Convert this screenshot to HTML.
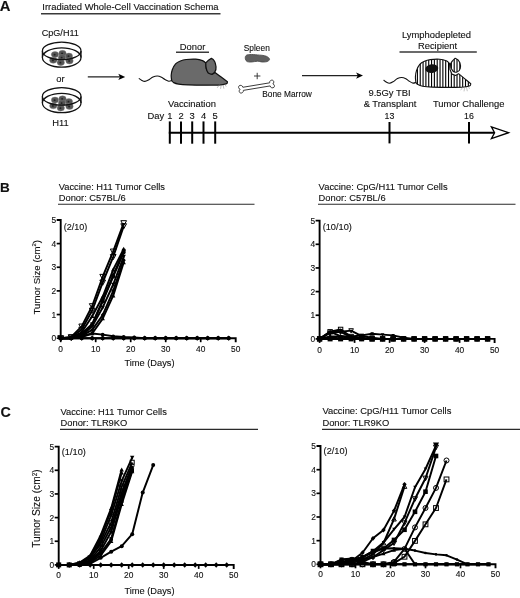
<!DOCTYPE html>
<html><head><meta charset="utf-8"><title>Figure</title>
<style>html,body{margin:0;padding:0;background:#fff}svg{display:block;will-change:transform;filter:grayscale(1)}text{font-family:"Liberation Sans", sans-serif;fill:#111;stroke:#111;stroke-width:0.12px}</style>
</head><body>
<svg width="520" height="598" viewBox="0 0 520 598">
<rect width="520" height="598" fill="#fff"/>
<text x="-0.3" y="10.7" font-size="14.8" text-anchor="start" font-weight="bold" >A</text>
<text x="42.3" y="10.2" font-size="9.5" text-anchor="start" textLength="176.3" lengthAdjust="spacingAndGlyphs" >Irradiated Whole-Cell Vaccination Schema</text>
<line x1="41" y1="13.8" x2="220.5" y2="13.8" stroke="#3a3a3a" stroke-width="1.5" />
<text x="60.3" y="36.3" font-size="9.4" text-anchor="middle" textLength="37.2" lengthAdjust="spacingAndGlyphs" >CpG/H11</text>
<text x="60.5" y="82" font-size="9.4" text-anchor="middle" >or</text>
<text x="60.5" y="125.5" font-size="9.4" text-anchor="middle" >H11</text>
<g fill="none" stroke="#111" stroke-width="1.25">
<ellipse cx="61.7" cy="57.5" rx="19.3" ry="9.700000000000001" fill="#fff"/>
<path d="M42.400000000000006,50.9 V57.5 M81.0,50.9 V57.5"/>
</g>
<ellipse cx="55.0" cy="54.6" rx="3.7" ry="3.05" fill="#555" stroke="#808080" stroke-width="0.4"/>
<ellipse cx="54.6" cy="54.7" rx="1.0" ry="0.9" fill="#222"/>
<ellipse cx="62.5" cy="53.4" rx="3.7" ry="3.05" fill="#555" stroke="#808080" stroke-width="0.4"/>
<ellipse cx="62.1" cy="53.5" rx="1.0" ry="0.9" fill="#222"/>
<ellipse cx="68.9" cy="56.1" rx="3.7" ry="3.05" fill="#555" stroke="#808080" stroke-width="0.4"/>
<ellipse cx="68.5" cy="56.2" rx="1.0" ry="0.9" fill="#222"/>
<ellipse cx="53.3" cy="60.3" rx="3.7" ry="3.05" fill="#555" stroke="#808080" stroke-width="0.4"/>
<ellipse cx="52.9" cy="60.4" rx="1.0" ry="0.9" fill="#222"/>
<ellipse cx="60.8" cy="62.6" rx="3.7" ry="3.05" fill="#555" stroke="#808080" stroke-width="0.4"/>
<ellipse cx="60.4" cy="62.7" rx="1.0" ry="0.9" fill="#222"/>
<ellipse cx="69.5" cy="60.9" rx="3.7" ry="3.05" fill="#555" stroke="#808080" stroke-width="0.4"/>
<ellipse cx="69.1" cy="61.0" rx="1.0" ry="0.9" fill="#222"/>
<ellipse cx="62.0" cy="57.5" rx="3.7" ry="3.05" fill="#555" stroke="#808080" stroke-width="0.4"/>
<ellipse cx="61.6" cy="57.6" rx="1.0" ry="0.9" fill="#222"/>
<ellipse cx="61.7" cy="50.9" rx="19.3" ry="8.8" fill="none" stroke="#111" stroke-width="1.25"/>
<g fill="none" stroke="#111" stroke-width="1.25">
<ellipse cx="61.7" cy="103.0" rx="19.3" ry="9.700000000000001" fill="#fff"/>
<path d="M42.400000000000006,96.4 V103.0 M81.0,96.4 V103.0"/>
</g>
<ellipse cx="55.0" cy="100.1" rx="3.7" ry="3.05" fill="#555" stroke="#808080" stroke-width="0.4"/>
<ellipse cx="54.6" cy="100.2" rx="1.0" ry="0.9" fill="#222"/>
<ellipse cx="62.5" cy="98.9" rx="3.7" ry="3.05" fill="#555" stroke="#808080" stroke-width="0.4"/>
<ellipse cx="62.1" cy="99.0" rx="1.0" ry="0.9" fill="#222"/>
<ellipse cx="68.9" cy="101.6" rx="3.7" ry="3.05" fill="#555" stroke="#808080" stroke-width="0.4"/>
<ellipse cx="68.5" cy="101.7" rx="1.0" ry="0.9" fill="#222"/>
<ellipse cx="53.3" cy="105.8" rx="3.7" ry="3.05" fill="#555" stroke="#808080" stroke-width="0.4"/>
<ellipse cx="52.9" cy="105.9" rx="1.0" ry="0.9" fill="#222"/>
<ellipse cx="60.8" cy="108.1" rx="3.7" ry="3.05" fill="#555" stroke="#808080" stroke-width="0.4"/>
<ellipse cx="60.4" cy="108.2" rx="1.0" ry="0.9" fill="#222"/>
<ellipse cx="69.5" cy="106.4" rx="3.7" ry="3.05" fill="#555" stroke="#808080" stroke-width="0.4"/>
<ellipse cx="69.1" cy="106.5" rx="1.0" ry="0.9" fill="#222"/>
<ellipse cx="62.0" cy="103.0" rx="3.7" ry="3.05" fill="#555" stroke="#808080" stroke-width="0.4"/>
<ellipse cx="61.6" cy="103.1" rx="1.0" ry="0.9" fill="#222"/>
<ellipse cx="61.7" cy="96.4" rx="19.3" ry="8.8" fill="none" stroke="#111" stroke-width="1.25"/>
<path d="M87.8,76.9 H121" stroke="#222" stroke-width="1.3" fill="none"/><path d="M125.2,76.9 l-6.9,-3.1 l1.7,3.1 l-1.7,3.1z" fill="#000"/>
<path d="M302,75.6 H359" stroke="#222" stroke-width="1.3" fill="none"/><path d="M363,75.6 l-6.9,-3.1 l1.7,3.1 l-1.7,3.1z" fill="#000"/>
<text x="192.5" y="50" font-size="9.4" text-anchor="middle" >Donor</text>
<line x1="176" y1="52.3" x2="209" y2="52.3" stroke="#3a3a3a" stroke-width="1.5" />
<path d="M171.70,80.60 C171.22,80.70 169.92,81.38 168.80,81.20 C167.68,81.02 166.22,80.17 165.00,79.50 C163.78,78.83 162.78,77.78 161.50,77.20 C160.22,76.62 158.72,76.03 157.30,76.00 C155.88,75.97 154.47,76.33 153.00,77.00 C151.53,77.67 149.87,79.27 148.50,80.00 C147.13,80.73 145.97,81.37 144.80,81.40 C143.63,81.43 142.43,80.67 141.50,80.20 C140.57,79.73 139.58,78.87 139.20,78.60 " fill="none" stroke="#111" stroke-width="1.1" stroke-linecap="round"/>
<path d="M171.70,80.60 C171.62,79.73 171.10,77.22 171.20,75.40 C171.30,73.58 171.57,71.62 172.30,69.70 C173.03,67.78 174.25,65.35 175.60,63.90 C176.95,62.45 178.63,61.73 180.40,61.00 C182.17,60.27 183.63,59.82 186.20,59.50 C188.77,59.18 193.08,58.92 195.80,59.10 C198.52,59.28 200.83,59.97 202.50,60.60 C204.17,61.23 205.25,62.52 205.80,62.90  L206.3,68.7 L208.3,72.9 L212.1,74.1 L215,72.5 C215.97,73.22 218.73,75.25 220.80,76.80 C222.87,78.35 226.30,80.97 227.40,81.80  C227.27,82.10 227.70,83.10 226.60,83.60 C225.50,84.10 224.02,84.53 220.80,84.80 C217.58,85.07 212.75,85.18 207.30,85.20 C201.85,85.22 192.90,85.08 188.10,84.90 C183.30,84.72 180.90,84.48 178.50,84.10 C176.10,83.72 174.83,83.18 173.70,82.60 C172.57,82.02 172.03,80.93 171.70,80.60  Z" fill="#6a6a6a" stroke="#111" stroke-width="1.25" stroke-linejoin="round"/>
<path d="M205.8,62.9 C207.2,61.2 209.3,59.4 211.4,58.4 C213.6,59.4 215.6,62.5 216,66.8 C216.2,69 215.8,70.6 215,71.6 C214.2,73 213.2,74 212.1,74.1 C210.5,74.3 209.2,73.8 208.3,72.9 C207.3,71.8 206.6,70.5 206.3,68.7 C205.9,66.8 205.7,64.8 205.8,62.9 Z" fill="#6a6a6a" stroke="#111" stroke-width="1.25" stroke-linejoin="round"/>
<path d="M219.5,84.6 L217.2,87.8 M221.2,84.9 L220.6,88.9 M223,84.8 L223.9,88.7 M224.8,84.2 L226.2,86.6" fill="none" stroke="#8a8a8a" stroke-width="0.55"/>
<text x="243.8" y="51.4" font-size="8.6" text-anchor="start" textLength="26" lengthAdjust="spacingAndGlyphs" >Spleen</text>
<path d="M245.90,55.70 C246.63,54.93 247.85,54.63 249.80,54.50 C251.75,54.37 255.15,54.70 257.60,54.90 C260.05,55.10 262.72,55.28 264.50,55.70 C266.28,56.12 267.47,56.75 268.30,57.40 C269.13,58.05 269.70,58.90 269.50,59.60 C269.30,60.30 268.35,61.20 267.10,61.60 C265.85,62.00 263.58,62.07 262.00,62.00 C260.42,61.93 259.33,61.20 257.60,61.20 C255.87,61.20 253.33,61.93 251.60,62.00 C249.87,62.07 248.23,62.08 247.20,61.60 C246.17,61.12 245.62,60.08 245.40,59.10 C245.18,58.12 245.17,56.47 245.90,55.70 Z" fill="#606060" stroke="#444" stroke-width="0.8"/>
<path d="M254,76 H260.4 M257.2,72.8 V79.2" stroke="#333" stroke-width="0.95" fill="none"/>
<g transform="translate(256.5,86.6) rotate(-9.4) scale(0.97,0.98)"><path d="M-14,-1.6 L14,-1.6 C13.9,-4.4 18.3,-4.9 18.4,-2.1 C18.4,-1.1 17.9,-0.4 17.1,0 C17.9,0.4 18.4,1.1 18.4,2.1 C18.3,4.9 13.9,4.4 14,1.6 L-14,1.6 C-13.9,4.4 -18.3,4.9 -18.4,2.1 C-18.4,1.1 -17.9,0.4 -17.1,0 C-17.9,-0.4 -18.4,-1.1 -18.4,-2.1 C-18.3,-4.9 -13.9,-4.4 -14,-1.6 Z" fill="#fff" stroke="#3a3a3a" stroke-width="0.95" stroke-linejoin="round"/></g>
<text x="262.3" y="96.7" font-size="8.6" text-anchor="start" textLength="49.5" lengthAdjust="spacingAndGlyphs" >Bone Marrow</text>
<text x="436.5" y="37.5" font-size="9.4" text-anchor="middle" >Lymphodepleted</text>
<text x="437.5" y="48.8" font-size="9.4" text-anchor="middle" >Recipient</text>
<line x1="399.5" y1="52.1" x2="476.8" y2="52.1" stroke="#3a3a3a" stroke-width="1.5" />
<defs><clipPath id="m2c"><path d="M415.90,82.44 C415.82,81.50 415.31,78.79 415.40,76.82 C415.50,74.86 415.77,72.74 416.49,70.67 C417.21,68.59 418.41,65.97 419.74,64.40 C421.07,62.84 422.72,62.06 424.47,61.27 C426.21,60.48 427.65,60.00 430.18,59.65 C432.71,59.31 436.96,59.03 439.64,59.22 C442.31,59.41 444.59,60.16 446.24,60.84 C447.88,61.52 448.94,62.91 449.49,63.32  L449.98,69.59 L451.95,74.12 L455.69,75.42 L458.55,73.69 C459.50,74.47 462.22,76.66 464.26,78.34 C466.30,80.01 469.68,82.84 470.76,83.74  C470.63,84.06 471.06,85.14 469.97,85.68 C468.89,86.22 467.43,86.68 464.26,86.98 C461.09,87.27 456.33,87.39 450.96,87.41 C445.59,87.43 436.78,87.28 432.05,87.08 C427.32,86.89 424.96,86.63 422.60,86.22 C420.23,85.81 418.98,85.23 417.87,84.60 C416.75,83.97 416.22,82.80 415.90,82.44  Z"/><path d="M450.4,64 C451.5,62 453.2,59.9 455.2,58.2 C457.6,59 459.2,60.9 459.9,62.8 C460.6,64.8 460.7,66.8 460.2,68.6 C459.7,70.3 458.5,71.5 457,72 C455.6,72.4 454,72.1 452.9,71 C451.4,69.4 450.3,66.5 450.4,64 Z"/></clipPath></defs>
<path d="M415.90,82.44 C415.42,82.55 414.14,83.28 413.04,83.09 C411.94,82.89 410.50,81.98 409.30,81.25 C408.10,80.53 407.11,79.39 405.85,78.77 C404.59,78.14 403.11,77.50 401.71,77.47 C400.31,77.44 398.93,77.83 397.48,78.55 C396.03,79.28 394.39,81.00 393.04,81.79 C391.70,82.58 390.55,83.27 389.40,83.30 C388.25,83.34 387.07,82.52 386.15,82.01 C385.23,81.50 384.26,80.57 383.88,80.28 " fill="none" stroke="#111" stroke-width="1.1" stroke-linecap="round"/>
<path d="M415.90,82.44 C415.82,81.50 415.31,78.79 415.40,76.82 C415.50,74.86 415.77,72.74 416.49,70.67 C417.21,68.59 418.41,65.97 419.74,64.40 C421.07,62.84 422.72,62.06 424.47,61.27 C426.21,60.48 427.65,60.00 430.18,59.65 C432.71,59.31 436.96,59.03 439.64,59.22 C442.31,59.41 444.59,60.16 446.24,60.84 C447.88,61.52 448.94,62.91 449.49,63.32  L449.98,69.59 L451.95,74.12 L455.69,75.42 L458.55,73.69 C459.50,74.47 462.22,76.66 464.26,78.34 C466.30,80.01 469.68,82.84 470.76,83.74  C470.63,84.06 471.06,85.14 469.97,85.68 C468.89,86.22 467.43,86.68 464.26,86.98 C461.09,87.27 456.33,87.39 450.96,87.41 C445.59,87.43 436.78,87.28 432.05,87.08 C427.32,86.89 424.96,86.63 422.60,86.22 C420.23,85.81 418.98,85.23 417.87,84.60 C416.75,83.97 416.22,82.80 415.90,82.44  Z" fill="#fff" stroke="none"/><path d="M450.4,64 C451.5,62 453.2,59.9 455.2,58.2 C457.6,59 459.2,60.9 459.9,62.8 C460.6,64.8 460.7,66.8 460.2,68.6 C459.7,70.3 458.5,71.5 457,72 C455.6,72.4 454,72.1 452.9,71 C451.4,69.4 450.3,66.5 450.4,64 Z" fill="#fff" stroke="none"/>
<path d="M411.74,54 V90 M414.57,54 V90 M417.40,54 V90 M420.23,54 V90 M423.06,54 V90 M425.89,54 V90 M428.72,54 V90 M431.55,54 V90 M434.38,54 V90 M437.21,54 V90 M440.04,54 V90 M442.87,54 V90 M445.70,54 V90 M448.53,54 V90 M451.36,54 V90 M454.19,54 V90 M457.02,54 V90 M459.85,54 V90 M462.68,54 V90 M465.51,54 V90 M468.34,54 V90 M471.17,54 V90 M474.00,54 V90 " stroke="#000" stroke-width="1.12" fill="none" clip-path="url(#m2c)"/>
<path d="M415.90,82.44 C415.82,81.50 415.31,78.79 415.40,76.82 C415.50,74.86 415.77,72.74 416.49,70.67 C417.21,68.59 418.41,65.97 419.74,64.40 C421.07,62.84 422.72,62.06 424.47,61.27 C426.21,60.48 427.65,60.00 430.18,59.65 C432.71,59.31 436.96,59.03 439.64,59.22 C442.31,59.41 444.59,60.16 446.24,60.84 C447.88,61.52 448.94,62.91 449.49,63.32  L449.98,69.59 L451.95,74.12 L455.69,75.42 L458.55,73.69 C459.50,74.47 462.22,76.66 464.26,78.34 C466.30,80.01 469.68,82.84 470.76,83.74  C470.63,84.06 471.06,85.14 469.97,85.68 C468.89,86.22 467.43,86.68 464.26,86.98 C461.09,87.27 456.33,87.39 450.96,87.41 C445.59,87.43 436.78,87.28 432.05,87.08 C427.32,86.89 424.96,86.63 422.60,86.22 C420.23,85.81 418.98,85.23 417.87,84.60 C416.75,83.97 416.22,82.80 415.90,82.44  Z" fill="none" stroke="#111" stroke-width="1.1" stroke-linejoin="round"/>
<path d="M450.4,64 C451.5,62 453.2,59.9 455.2,58.2 C457.6,59 459.2,60.9 459.9,62.8 C460.6,64.8 460.7,66.8 460.2,68.6 C459.7,70.3 458.5,71.5 457,72 C455.6,72.4 454,72.1 452.9,71 C451.4,69.4 450.3,66.5 450.4,64 Z" fill="none" stroke="#111" stroke-width="1.1" stroke-linejoin="round"/>
<path d="M462.98,86.76 L460.71,90.22 M464.65,87.08 L464.06,91.40 M466.43,86.98 L467.31,91.19 M468.20,86.33 L469.58,88.92" fill="none" stroke="#888" stroke-width="0.5"/>
<ellipse cx="431.8" cy="68.6" rx="6.5" ry="4.4" fill="#111" transform="rotate(-8 431.8 68.6)"/>
<text x="389.5" y="95.9" font-size="9.4" text-anchor="middle" >9.5Gy TBI</text>
<text x="390" y="107.4" font-size="9.4" text-anchor="middle" >&amp; Transplant</text>
<text x="389.5" y="118.6" font-size="8.8" text-anchor="middle" >13</text>
<text x="468.7" y="107.4" font-size="9.4" text-anchor="middle" >Tumor Challenge</text>
<text x="469" y="118.6" font-size="8.8" text-anchor="middle" >16</text>
<text x="192" y="107" font-size="9.4" text-anchor="middle" >Vaccination</text>
<text x="147.5" y="118.7" font-size="9.4" text-anchor="start" >Day</text>
<text x="169.8" y="118.7" font-size="9.4" text-anchor="middle" >1</text>
<line x1="169.8" y1="121.4" x2="169.8" y2="143.7" stroke="#000" stroke-width="2.0" />
<text x="181" y="118.7" font-size="9.4" text-anchor="middle" >2</text>
<line x1="181" y1="121.4" x2="181" y2="143.7" stroke="#000" stroke-width="2.0" />
<text x="192.2" y="118.7" font-size="9.4" text-anchor="middle" >3</text>
<line x1="192.2" y1="121.4" x2="192.2" y2="143.7" stroke="#000" stroke-width="2.0" />
<text x="203.5" y="118.7" font-size="9.4" text-anchor="middle" >4</text>
<line x1="203.5" y1="121.4" x2="203.5" y2="143.7" stroke="#000" stroke-width="2.0" />
<text x="215.2" y="118.7" font-size="9.4" text-anchor="middle" >5</text>
<line x1="215.2" y1="121.4" x2="215.2" y2="143.7" stroke="#000" stroke-width="2.0" />
<line x1="168.8" y1="132.7" x2="494" y2="132.7" stroke="#000" stroke-width="1.95" />
<line x1="389.5" y1="122" x2="389.5" y2="143.4" stroke="#000" stroke-width="2.0" />
<line x1="469" y1="122" x2="469" y2="143.4" stroke="#000" stroke-width="2.0" />
<path d="M491.4,126.9 L508.6,132.7 L491.4,138.6 L494.6,132.7 Z" fill="#fff" stroke="#000" stroke-width="1.3" stroke-linejoin="miter"/>
<text x="0" y="191.5" font-size="13.5" text-anchor="start" font-weight="bold" >B</text>
<text x="58.7" y="190.0" font-size="9.35" text-anchor="start" textLength="106.3" lengthAdjust="spacingAndGlyphs" >Vaccine: H11 Tumor Cells</text>
<text x="58.7" y="201.2" font-size="9.35" text-anchor="start" >Donor: C57BL/6</text>
<line x1="58" y1="204.2" x2="254.5" y2="204.2" stroke="#2a2a2a" stroke-width="1.15" />
<text x="318.6" y="189.8" font-size="9.35" text-anchor="start" textLength="129" lengthAdjust="spacingAndGlyphs" >Vaccine: CpG/H11 Tumor Cells</text>
<text x="318.6" y="201.2" font-size="9.35" text-anchor="start" >Donor: C57BL/6</text>
<line x1="318" y1="204.2" x2="515.5" y2="204.2" stroke="#2a2a2a" stroke-width="1.15" />
<path d="M56.7,219.95 H60.7 V338.2 H235.7 V342.2" fill="none" stroke="#000" stroke-width="1.9" stroke-linejoin="miter"/>
<line x1="56.7" y1="338.2" x2="60.7" y2="338.2" stroke="#000" stroke-width="1.7" />
<line x1="56.7" y1="314.55" x2="60.7" y2="314.55" stroke="#000" stroke-width="1.7" />
<line x1="56.7" y1="290.9" x2="60.7" y2="290.9" stroke="#000" stroke-width="1.7" />
<line x1="56.7" y1="267.25" x2="60.7" y2="267.25" stroke="#000" stroke-width="1.7" />
<line x1="56.7" y1="243.6" x2="60.7" y2="243.6" stroke="#000" stroke-width="1.7" />
<text x="56.2" y="341.15" font-size="8.4" text-anchor="end" >0</text>
<text x="56.2" y="317.5" font-size="8.4" text-anchor="end" >1</text>
<text x="56.2" y="293.84999999999997" font-size="8.4" text-anchor="end" >2</text>
<text x="56.2" y="270.2" font-size="8.4" text-anchor="end" >3</text>
<text x="56.2" y="246.54999999999998" font-size="8.4" text-anchor="end" >4</text>
<text x="56.2" y="222.89999999999998" font-size="8.4" text-anchor="end" >5</text>
<line x1="60.7" y1="338.2" x2="60.7" y2="342.2" stroke="#000" stroke-width="1.7" />
<text x="60.7" y="352.4" font-size="8.4" text-anchor="middle" >0</text>
<line x1="95.7" y1="338.2" x2="95.7" y2="342.2" stroke="#000" stroke-width="1.7" />
<text x="95.7" y="352.4" font-size="8.4" text-anchor="middle" >10</text>
<line x1="130.7" y1="338.2" x2="130.7" y2="342.2" stroke="#000" stroke-width="1.7" />
<text x="130.7" y="352.4" font-size="8.4" text-anchor="middle" >20</text>
<line x1="165.7" y1="338.2" x2="165.7" y2="342.2" stroke="#000" stroke-width="1.7" />
<text x="165.7" y="352.4" font-size="8.4" text-anchor="middle" >30</text>
<line x1="200.7" y1="338.2" x2="200.7" y2="342.2" stroke="#000" stroke-width="1.7" />
<text x="200.7" y="352.4" font-size="8.4" text-anchor="middle" >40</text>
<text x="235.7" y="352.4" font-size="8.4" text-anchor="middle" >50</text>
<text x="63.800000000000004" y="229.95" font-size="9.0" text-anchor="start" >(2/10)</text>
<text transform="translate(39.7,277.2) rotate(-90)" font-size="9.7" text-anchor="middle">Tumor Size (cm<tspan font-size="6.0" dy="-3.3">2</tspan><tspan dy="3.3">)</tspan></text>
<text x="149.5" y="366" font-size="9.6" text-anchor="middle" textLength="50" lengthAdjust="spacingAndGlyphs" >Time (Days)</text>
<polyline points="60.7,338.2 71.2,337.02 81.7,326.38 92.2,306.04 102.7,276.71 113.2,251.4 123.7,223.02" fill="none" stroke="#000" stroke-width="1.95" stroke-linejoin="round"/>
<polygon points="60.7,341.06 57.84,335.86 63.56,335.86" fill="none" stroke="#000" stroke-width="1.0"/>
<polygon points="71.2,339.88 68.34,334.68 74.06,334.68" fill="none" stroke="#000" stroke-width="1.0"/>
<polygon points="81.7,329.24 78.84,324.04 84.56,324.04" fill="none" stroke="#000" stroke-width="1.0"/>
<polygon points="92.2,308.90000000000003 89.34,303.70000000000005 95.06,303.70000000000005" fill="none" stroke="#000" stroke-width="1.0"/>
<polygon points="102.7,279.57 99.84,274.37 105.56,274.37" fill="none" stroke="#000" stroke-width="1.0"/>
<polygon points="113.2,254.26000000000002 110.34,249.06 116.06,249.06" fill="none" stroke="#000" stroke-width="1.0"/>
<polygon points="123.7,225.88000000000002 120.84,220.68 126.56,220.68" fill="none" stroke="#000" stroke-width="1.0"/>
<polyline points="60.7,338.2 71.2,337.49 81.7,329.45 92.2,310.53 102.7,282.39 113.2,256.84 123.7,226.1" fill="none" stroke="#000" stroke-width="1.95" stroke-linejoin="round"/>
<polygon points="60.7,341.06 57.84,335.86 63.56,335.86" fill="none" stroke="#000" stroke-width="1.0"/>
<polygon points="71.2,340.35 68.34,335.15000000000003 74.06,335.15000000000003" fill="none" stroke="#000" stroke-width="1.0"/>
<polygon points="81.7,332.31 78.84,327.11 84.56,327.11" fill="none" stroke="#000" stroke-width="1.0"/>
<polygon points="92.2,313.39 89.34,308.19 95.06,308.19" fill="none" stroke="#000" stroke-width="1.0"/>
<polygon points="102.7,285.25 99.84,280.05 105.56,280.05" fill="none" stroke="#000" stroke-width="1.0"/>
<polygon points="113.2,259.7 110.34,254.49999999999997 116.06,254.49999999999997" fill="none" stroke="#000" stroke-width="1.0"/>
<polygon points="123.7,228.96 120.84,223.76 126.56,223.76" fill="none" stroke="#000" stroke-width="1.0"/>
<polyline points="60.7,338.2 71.2,337.73 81.7,332.29 92.2,316.21 102.7,296.81 113.2,269.62 123.7,249.04" fill="none" stroke="#000" stroke-width="1.95" stroke-linejoin="round"/>
<polygon points="60.7,336.0 58.5,340.0 62.900000000000006,340.0" fill="#000"/>
<polygon points="71.2,335.53000000000003 69.0,339.53000000000003 73.4,339.53000000000003" fill="#000"/>
<polygon points="81.7,330.09000000000003 79.5,334.09000000000003 83.9,334.09000000000003" fill="#000"/>
<polygon points="92.2,314.01 90.0,318.01 94.4,318.01" fill="#000"/>
<polygon points="102.7,294.61 100.5,298.61 104.9,298.61" fill="#000"/>
<polygon points="113.2,267.42 111.0,271.42 115.4,271.42" fill="#000"/>
<polygon points="123.7,246.84 121.5,250.84 125.9,250.84" fill="#000"/>
<polyline points="60.7,338.2 71.2,338.2 81.7,333.47 92.2,324.01 102.7,300.36 113.2,275.29 123.7,250.69" fill="none" stroke="#000" stroke-width="1.95" stroke-linejoin="round"/>
<rect x="58.900000000000006" y="336.4" width="3.6" height="3.6" fill="#000"/>
<rect x="69.4" y="336.4" width="3.6" height="3.6" fill="#000"/>
<rect x="79.9" y="331.67" width="3.6" height="3.6" fill="#000"/>
<rect x="90.4" y="322.21" width="3.6" height="3.6" fill="#000"/>
<rect x="100.9" y="298.56" width="3.6" height="3.6" fill="#000"/>
<rect x="111.4" y="273.49" width="3.6" height="3.6" fill="#000"/>
<rect x="121.9" y="248.89" width="3.6" height="3.6" fill="#000"/>
<polyline points="60.7,338.2 71.2,338.2 81.7,334.65 92.2,325.19 102.7,301.31 113.2,276.71 123.7,252.59" fill="none" stroke="#000" stroke-width="1.95" stroke-linejoin="round"/>
<circle cx="60.7" cy="338.2" r="1.9" fill="#000"/>
<circle cx="71.2" cy="338.2" r="1.9" fill="#000"/>
<circle cx="81.7" cy="334.65" r="1.9" fill="#000"/>
<circle cx="92.2" cy="325.19" r="1.9" fill="#000"/>
<circle cx="102.7" cy="301.31" r="1.9" fill="#000"/>
<circle cx="113.2" cy="276.71" r="1.9" fill="#000"/>
<circle cx="123.7" cy="252.59" r="1.9" fill="#000"/>
<polyline points="60.7,338.2 71.2,338.2 81.7,335.83 92.2,326.38 102.7,307.45 113.2,284.51 123.7,256.61" fill="none" stroke="#000" stroke-width="1.95" stroke-linejoin="round"/>
<polygon points="60.7,340.4 58.5,336.4 62.900000000000006,336.4" fill="#000"/>
<polygon points="71.2,340.4 69.0,336.4 73.4,336.4" fill="#000"/>
<polygon points="81.7,338.03 79.5,334.03 83.9,334.03" fill="#000"/>
<polygon points="92.2,328.58 90.0,324.58 94.4,324.58" fill="#000"/>
<polygon points="102.7,309.65 100.5,305.65 104.9,305.65" fill="#000"/>
<polygon points="113.2,286.71 111.0,282.71 115.4,282.71" fill="#000"/>
<polygon points="123.7,258.81 121.5,254.81 125.9,254.81" fill="#000"/>
<polyline points="60.7,338.2 71.2,338.2 81.7,335.83 92.2,329.92 102.7,315.02 113.2,290.9 123.7,260.15" fill="none" stroke="#000" stroke-width="1.95" stroke-linejoin="round"/>
<polygon points="60.7,335.92 62.790000000000006,338.2 60.7,340.47999999999996 58.61,338.2" fill="#000"/>
<polygon points="71.2,335.92 73.29,338.2 71.2,340.47999999999996 69.11,338.2" fill="#000"/>
<polygon points="81.7,333.55 83.79,335.83 81.7,338.10999999999996 79.61,335.83" fill="#000"/>
<polygon points="92.2,327.64000000000004 94.29,329.92 92.2,332.2 90.11,329.92" fill="#000"/>
<polygon points="102.7,312.74 104.79,315.02 102.7,317.29999999999995 100.61,315.02" fill="#000"/>
<polygon points="113.2,288.62 115.29,290.9 113.2,293.17999999999995 111.11,290.9" fill="#000"/>
<polygon points="123.7,257.87 125.79,260.15 123.7,262.42999999999995 121.61,260.15" fill="#000"/>
<polyline points="60.7,338.2 71.2,338.2 81.7,337.02 92.2,333.47 102.7,318.57 113.2,295.63 123.7,262.52" fill="none" stroke="#000" stroke-width="1.95" stroke-linejoin="round"/>
<polygon points="60.7,336.0 58.5,340.0 62.900000000000006,340.0" fill="#000"/>
<polygon points="71.2,336.0 69.0,340.0 73.4,340.0" fill="#000"/>
<polygon points="81.7,334.82 79.5,338.82 83.9,338.82" fill="#000"/>
<polygon points="92.2,331.27000000000004 90.0,335.27000000000004 94.4,335.27000000000004" fill="#000"/>
<polygon points="102.7,316.37 100.5,320.37 104.9,320.37" fill="#000"/>
<polygon points="113.2,293.43 111.0,297.43 115.4,297.43" fill="#000"/>
<polygon points="123.7,260.32 121.5,264.32 125.9,264.32" fill="#000"/>
<polyline points="60.7,338.2 71.2,338.2 81.7,336.31 92.2,333.47 102.7,334.65 113.2,336.31 123.7,337.02 134.2,337.49 144.7,338.2 155.2,338.2 165.7,338.2 176.2,338.2 186.7,338.2 197.2,338.2 207.7,338.2 218.2,338.2 228.7,338.2" fill="none" stroke="#000" stroke-width="1.95" stroke-linejoin="round"/>
<circle cx="60.7" cy="338.2" r="1.9" fill="#000"/>
<circle cx="71.2" cy="338.2" r="1.9" fill="#000"/>
<circle cx="81.7" cy="336.31" r="1.9" fill="#000"/>
<circle cx="92.2" cy="333.47" r="1.9" fill="#000"/>
<circle cx="102.7" cy="334.65" r="1.9" fill="#000"/>
<circle cx="113.2" cy="336.31" r="1.9" fill="#000"/>
<circle cx="123.7" cy="337.02" r="1.9" fill="#000"/>
<circle cx="134.2" cy="337.49" r="1.9" fill="#000"/>
<circle cx="144.7" cy="338.2" r="1.9" fill="#000"/>
<circle cx="155.2" cy="338.2" r="1.9" fill="#000"/>
<circle cx="165.7" cy="338.2" r="1.9" fill="#000"/>
<circle cx="176.2" cy="338.2" r="1.9" fill="#000"/>
<circle cx="186.7" cy="338.2" r="1.9" fill="#000"/>
<circle cx="197.2" cy="338.2" r="1.9" fill="#000"/>
<circle cx="207.7" cy="338.2" r="1.9" fill="#000"/>
<circle cx="218.2" cy="338.2" r="1.9" fill="#000"/>
<circle cx="228.7" cy="338.2" r="1.9" fill="#000"/>
<polyline points="60.7,338.2 71.2,338.2 81.7,338.2 92.2,338.2 102.7,338.2 113.2,338.2 123.7,338.2 134.2,338.2 144.7,338.2 155.2,338.2 165.7,338.2 176.2,338.2 186.7,338.2 197.2,338.2 207.7,338.2 218.2,338.2 228.7,338.2" fill="none" stroke="#000" stroke-width="1.95" stroke-linejoin="round"/>
<polygon points="60.7,335.56 63.120000000000005,338.2 60.7,340.84 58.28,338.2" fill="#000"/><circle cx="60.7" cy="338.2" r="2.0240000000000005" fill="#000"/>
<polygon points="71.2,335.56 73.62,338.2 71.2,340.84 68.78,338.2" fill="#000"/><circle cx="71.2" cy="338.2" r="2.0240000000000005" fill="#000"/>
<polygon points="81.7,335.56 84.12,338.2 81.7,340.84 79.28,338.2" fill="#000"/><circle cx="81.7" cy="338.2" r="2.0240000000000005" fill="#000"/>
<polygon points="92.2,335.56 94.62,338.2 92.2,340.84 89.78,338.2" fill="#000"/><circle cx="92.2" cy="338.2" r="2.0240000000000005" fill="#000"/>
<polygon points="102.7,335.56 105.12,338.2 102.7,340.84 100.28,338.2" fill="#000"/><circle cx="102.7" cy="338.2" r="2.0240000000000005" fill="#000"/>
<polygon points="113.2,335.56 115.62,338.2 113.2,340.84 110.78,338.2" fill="#000"/><circle cx="113.2" cy="338.2" r="2.0240000000000005" fill="#000"/>
<polygon points="123.7,335.56 126.12,338.2 123.7,340.84 121.28,338.2" fill="#000"/><circle cx="123.7" cy="338.2" r="2.0240000000000005" fill="#000"/>
<polygon points="134.2,335.56 136.61999999999998,338.2 134.2,340.84 131.78,338.2" fill="#000"/><circle cx="134.2" cy="338.2" r="2.0240000000000005" fill="#000"/>
<polygon points="144.7,335.56 147.11999999999998,338.2 144.7,340.84 142.28,338.2" fill="#000"/><circle cx="144.7" cy="338.2" r="2.0240000000000005" fill="#000"/>
<polygon points="155.2,335.56 157.61999999999998,338.2 155.2,340.84 152.78,338.2" fill="#000"/><circle cx="155.2" cy="338.2" r="2.0240000000000005" fill="#000"/>
<polygon points="165.7,335.56 168.11999999999998,338.2 165.7,340.84 163.28,338.2" fill="#000"/><circle cx="165.7" cy="338.2" r="2.0240000000000005" fill="#000"/>
<polygon points="176.2,335.56 178.61999999999998,338.2 176.2,340.84 173.78,338.2" fill="#000"/><circle cx="176.2" cy="338.2" r="2.0240000000000005" fill="#000"/>
<polygon points="186.7,335.56 189.11999999999998,338.2 186.7,340.84 184.28,338.2" fill="#000"/><circle cx="186.7" cy="338.2" r="2.0240000000000005" fill="#000"/>
<polygon points="197.2,335.56 199.61999999999998,338.2 197.2,340.84 194.78,338.2" fill="#000"/><circle cx="197.2" cy="338.2" r="2.0240000000000005" fill="#000"/>
<polygon points="207.7,335.56 210.11999999999998,338.2 207.7,340.84 205.28,338.2" fill="#000"/><circle cx="207.7" cy="338.2" r="2.0240000000000005" fill="#000"/>
<polygon points="218.2,335.56 220.61999999999998,338.2 218.2,340.84 215.78,338.2" fill="#000"/><circle cx="218.2" cy="338.2" r="2.0240000000000005" fill="#000"/>
<polygon points="228.7,335.56 231.11999999999998,338.2 228.7,340.84 226.28,338.2" fill="#000"/><circle cx="228.7" cy="338.2" r="2.0240000000000005" fill="#000"/>
<path d="M315.6,220.64999999999998 H319.6 V338.9 H494.6 V342.9" fill="none" stroke="#000" stroke-width="1.9" stroke-linejoin="miter"/>
<line x1="315.6" y1="338.9" x2="319.6" y2="338.9" stroke="#000" stroke-width="1.7" />
<line x1="315.6" y1="315.25" x2="319.6" y2="315.25" stroke="#000" stroke-width="1.7" />
<line x1="315.6" y1="291.59999999999997" x2="319.6" y2="291.59999999999997" stroke="#000" stroke-width="1.7" />
<line x1="315.6" y1="267.95" x2="319.6" y2="267.95" stroke="#000" stroke-width="1.7" />
<line x1="315.6" y1="244.29999999999998" x2="319.6" y2="244.29999999999998" stroke="#000" stroke-width="1.7" />
<text x="315.1" y="341.84999999999997" font-size="8.4" text-anchor="end" >0</text>
<text x="315.1" y="318.2" font-size="8.4" text-anchor="end" >1</text>
<text x="315.1" y="294.54999999999995" font-size="8.4" text-anchor="end" >2</text>
<text x="315.1" y="270.9" font-size="8.4" text-anchor="end" >3</text>
<text x="315.1" y="247.24999999999997" font-size="8.4" text-anchor="end" >4</text>
<text x="315.1" y="223.59999999999997" font-size="8.4" text-anchor="end" >5</text>
<line x1="319.6" y1="338.9" x2="319.6" y2="342.9" stroke="#000" stroke-width="1.7" />
<text x="319.6" y="352.5" font-size="8.4" text-anchor="middle" >0</text>
<line x1="354.6" y1="338.9" x2="354.6" y2="342.9" stroke="#000" stroke-width="1.7" />
<text x="354.6" y="352.5" font-size="8.4" text-anchor="middle" >10</text>
<line x1="389.6" y1="338.9" x2="389.6" y2="342.9" stroke="#000" stroke-width="1.7" />
<text x="389.6" y="352.5" font-size="8.4" text-anchor="middle" >20</text>
<line x1="424.6" y1="338.9" x2="424.6" y2="342.9" stroke="#000" stroke-width="1.7" />
<text x="424.6" y="352.5" font-size="8.4" text-anchor="middle" >30</text>
<line x1="459.6" y1="338.9" x2="459.6" y2="342.9" stroke="#000" stroke-width="1.7" />
<text x="459.6" y="352.5" font-size="8.4" text-anchor="middle" >40</text>
<text x="494.6" y="352.5" font-size="8.4" text-anchor="middle" >50</text>
<text x="322.70000000000005" y="230.24999999999997" font-size="9.2" text-anchor="start" >(10/10)</text>
<polyline points="319.6,338.9 330.1,331.8 340.6,329.44 351.1,336.53 361.6,337.72 372.1,338.9 382.6,338.9 393.1,338.9 403.6,338.9 414.1,338.9 424.6,338.9 435.1,338.9 445.6,338.9 456.1,338.9 466.6,338.9 477.1,338.9 487.6,338.9" fill="none" stroke="#000" stroke-width="1.95" stroke-linejoin="round"/>
<rect x="317.40000000000003" y="336.7" width="4.4" height="4.4" fill="none" stroke="#000" stroke-width="1.0"/>
<rect x="327.90000000000003" y="329.6" width="4.4" height="4.4" fill="none" stroke="#000" stroke-width="1.0"/>
<rect x="338.40000000000003" y="327.24" width="4.4" height="4.4" fill="none" stroke="#000" stroke-width="1.0"/>
<rect x="348.90000000000003" y="334.33" width="4.4" height="4.4" fill="none" stroke="#000" stroke-width="1.0"/>
<rect x="359.40000000000003" y="335.52000000000004" width="4.4" height="4.4" fill="none" stroke="#000" stroke-width="1.0"/>
<rect x="369.90000000000003" y="336.7" width="4.4" height="4.4" fill="none" stroke="#000" stroke-width="1.0"/>
<rect x="380.40000000000003" y="336.7" width="4.4" height="4.4" fill="none" stroke="#000" stroke-width="1.0"/>
<rect x="390.90000000000003" y="336.7" width="4.4" height="4.4" fill="none" stroke="#000" stroke-width="1.0"/>
<rect x="401.40000000000003" y="336.7" width="4.4" height="4.4" fill="none" stroke="#000" stroke-width="1.0"/>
<rect x="411.90000000000003" y="336.7" width="4.4" height="4.4" fill="none" stroke="#000" stroke-width="1.0"/>
<rect x="422.40000000000003" y="336.7" width="4.4" height="4.4" fill="none" stroke="#000" stroke-width="1.0"/>
<rect x="432.90000000000003" y="336.7" width="4.4" height="4.4" fill="none" stroke="#000" stroke-width="1.0"/>
<rect x="443.40000000000003" y="336.7" width="4.4" height="4.4" fill="none" stroke="#000" stroke-width="1.0"/>
<rect x="453.90000000000003" y="336.7" width="4.4" height="4.4" fill="none" stroke="#000" stroke-width="1.0"/>
<rect x="464.40000000000003" y="336.7" width="4.4" height="4.4" fill="none" stroke="#000" stroke-width="1.0"/>
<rect x="474.90000000000003" y="336.7" width="4.4" height="4.4" fill="none" stroke="#000" stroke-width="1.0"/>
<rect x="485.40000000000003" y="336.7" width="4.4" height="4.4" fill="none" stroke="#000" stroke-width="1.0"/>
<polyline points="319.6,338.9 330.1,332.99 340.6,331.8 351.1,330.62 361.6,336.06 372.1,337.72 382.6,338.9 393.1,338.9 403.6,338.9 414.1,338.9 424.6,338.9 435.1,338.9 445.6,338.9 456.1,338.9 466.6,338.9 477.1,338.9 487.6,338.9" fill="none" stroke="#000" stroke-width="1.95" stroke-linejoin="round"/>
<polygon points="319.6,341.21 317.29,337.01 321.91,337.01" fill="none" stroke="#000" stroke-width="1.0"/>
<polygon points="330.1,335.3 327.79,331.1 332.41,331.1" fill="none" stroke="#000" stroke-width="1.0"/>
<polygon points="340.6,334.11 338.29,329.91 342.91,329.91" fill="none" stroke="#000" stroke-width="1.0"/>
<polygon points="351.1,332.93 348.79,328.73 353.41,328.73" fill="none" stroke="#000" stroke-width="1.0"/>
<polygon points="361.6,338.37 359.29,334.17 363.91,334.17" fill="none" stroke="#000" stroke-width="1.0"/>
<polygon points="372.1,340.03000000000003 369.79,335.83000000000004 374.41,335.83000000000004" fill="none" stroke="#000" stroke-width="1.0"/>
<polygon points="382.6,341.21 380.29,337.01 384.91,337.01" fill="none" stroke="#000" stroke-width="1.0"/>
<polygon points="393.1,341.21 390.79,337.01 395.41,337.01" fill="none" stroke="#000" stroke-width="1.0"/>
<polygon points="403.6,341.21 401.29,337.01 405.91,337.01" fill="none" stroke="#000" stroke-width="1.0"/>
<polygon points="414.1,341.21 411.79,337.01 416.41,337.01" fill="none" stroke="#000" stroke-width="1.0"/>
<polygon points="424.6,341.21 422.29,337.01 426.91,337.01" fill="none" stroke="#000" stroke-width="1.0"/>
<polygon points="435.1,341.21 432.79,337.01 437.41,337.01" fill="none" stroke="#000" stroke-width="1.0"/>
<polygon points="445.6,341.21 443.29,337.01 447.91,337.01" fill="none" stroke="#000" stroke-width="1.0"/>
<polygon points="456.1,341.21 453.79,337.01 458.41,337.01" fill="none" stroke="#000" stroke-width="1.0"/>
<polygon points="466.6,341.21 464.29,337.01 468.91,337.01" fill="none" stroke="#000" stroke-width="1.0"/>
<polygon points="477.1,341.21 474.79,337.01 479.41,337.01" fill="none" stroke="#000" stroke-width="1.0"/>
<polygon points="487.6,341.21 485.29,337.01 489.91,337.01" fill="none" stroke="#000" stroke-width="1.0"/>
<polyline points="319.6,338.9 330.1,337.72 340.6,336.53 351.1,336.53 361.6,335.35 372.1,333.7 382.6,334.64 393.1,335.35 403.6,337.72 414.1,338.9 424.6,338.9 435.1,338.9 445.6,338.9 456.1,338.9 466.6,338.9 477.1,338.9 487.6,338.9" fill="none" stroke="#000" stroke-width="1.95" stroke-linejoin="round"/>
<polygon points="319.6,340.65999999999997 317.84000000000003,337.46 321.36,337.46" fill="#000"/>
<polygon points="330.1,339.48 328.34000000000003,336.28000000000003 331.86,336.28000000000003" fill="#000"/>
<polygon points="340.6,338.28999999999996 338.84000000000003,335.09 342.36,335.09" fill="#000"/>
<polygon points="351.1,338.28999999999996 349.34000000000003,335.09 352.86,335.09" fill="#000"/>
<polygon points="361.6,337.11 359.84000000000003,333.91 363.36,333.91" fill="#000"/>
<polygon points="372.1,335.46 370.34000000000003,332.26 373.86,332.26" fill="#000"/>
<polygon points="382.6,336.4 380.84000000000003,333.2 384.36,333.2" fill="#000"/>
<polygon points="393.1,337.11 391.34000000000003,333.91 394.86,333.91" fill="#000"/>
<polygon points="403.6,339.48 401.84000000000003,336.28000000000003 405.36,336.28000000000003" fill="#000"/>
<polygon points="414.1,340.65999999999997 412.34000000000003,337.46 415.86,337.46" fill="#000"/>
<polygon points="424.6,340.65999999999997 422.84000000000003,337.46 426.36,337.46" fill="#000"/>
<polygon points="435.1,340.65999999999997 433.34000000000003,337.46 436.86,337.46" fill="#000"/>
<polygon points="445.6,340.65999999999997 443.84000000000003,337.46 447.36,337.46" fill="#000"/>
<polygon points="456.1,340.65999999999997 454.34000000000003,337.46 457.86,337.46" fill="#000"/>
<polygon points="466.6,340.65999999999997 464.84000000000003,337.46 468.36,337.46" fill="#000"/>
<polygon points="477.1,340.65999999999997 475.34000000000003,337.46 478.86,337.46" fill="#000"/>
<polygon points="487.6,340.65999999999997 485.84000000000003,337.46 489.36,337.46" fill="#000"/>
<polyline points="319.6,338.9 330.1,331.8 340.6,336.06 351.1,337.72 361.6,338.9 372.1,338.9 382.6,338.9 393.1,338.9 403.6,338.9 414.1,338.9 424.6,338.9 435.1,338.9 445.6,338.9 456.1,338.9 466.6,338.9 477.1,338.9 487.6,338.9" fill="none" stroke="#000" stroke-width="1.95" stroke-linejoin="round"/>
<polygon points="319.6,336.81 317.51000000000005,340.60999999999996 321.69,340.60999999999996" fill="#000"/>
<polygon points="330.1,329.71000000000004 328.01000000000005,333.51 332.19,333.51" fill="#000"/>
<polygon points="340.6,333.97 338.51000000000005,337.77 342.69,337.77" fill="#000"/>
<polygon points="351.1,335.63000000000005 349.01000000000005,339.43 353.19,339.43" fill="#000"/>
<polygon points="361.6,336.81 359.51000000000005,340.60999999999996 363.69,340.60999999999996" fill="#000"/>
<polygon points="372.1,336.81 370.01000000000005,340.60999999999996 374.19,340.60999999999996" fill="#000"/>
<polygon points="382.6,336.81 380.51000000000005,340.60999999999996 384.69,340.60999999999996" fill="#000"/>
<polygon points="393.1,336.81 391.01000000000005,340.60999999999996 395.19,340.60999999999996" fill="#000"/>
<polygon points="403.6,336.81 401.51000000000005,340.60999999999996 405.69,340.60999999999996" fill="#000"/>
<polygon points="414.1,336.81 412.01000000000005,340.60999999999996 416.19,340.60999999999996" fill="#000"/>
<polygon points="424.6,336.81 422.51000000000005,340.60999999999996 426.69,340.60999999999996" fill="#000"/>
<polygon points="435.1,336.81 433.01000000000005,340.60999999999996 437.19,340.60999999999996" fill="#000"/>
<polygon points="445.6,336.81 443.51000000000005,340.60999999999996 447.69,340.60999999999996" fill="#000"/>
<polygon points="456.1,336.81 454.01000000000005,340.60999999999996 458.19,340.60999999999996" fill="#000"/>
<polygon points="466.6,336.81 464.51000000000005,340.60999999999996 468.69,340.60999999999996" fill="#000"/>
<polygon points="477.1,336.81 475.01000000000005,340.60999999999996 479.19,340.60999999999996" fill="#000"/>
<polygon points="487.6,336.81 485.51000000000005,340.60999999999996 489.69,340.60999999999996" fill="#000"/>
<polyline points="319.6,338.9 330.1,332.28 340.6,331.8 351.1,337.01 361.6,338.9 372.1,338.9 382.6,338.9 393.1,338.9 403.6,338.9 414.1,338.9 424.6,338.9 435.1,338.9 445.6,338.9 456.1,338.9 466.6,338.9 477.1,338.9 487.6,338.9" fill="none" stroke="#000" stroke-width="1.95" stroke-linejoin="round"/>
<circle cx="319.6" cy="338.9" r="1.9" fill="#000"/>
<circle cx="330.1" cy="332.28" r="1.9" fill="#000"/>
<circle cx="340.6" cy="331.8" r="1.9" fill="#000"/>
<circle cx="351.1" cy="337.01" r="1.9" fill="#000"/>
<circle cx="361.6" cy="338.9" r="1.9" fill="#000"/>
<circle cx="372.1" cy="338.9" r="1.9" fill="#000"/>
<circle cx="382.6" cy="338.9" r="1.9" fill="#000"/>
<circle cx="393.1" cy="338.9" r="1.9" fill="#000"/>
<circle cx="403.6" cy="338.9" r="1.9" fill="#000"/>
<circle cx="414.1" cy="338.9" r="1.9" fill="#000"/>
<circle cx="424.6" cy="338.9" r="1.9" fill="#000"/>
<circle cx="435.1" cy="338.9" r="1.9" fill="#000"/>
<circle cx="445.6" cy="338.9" r="1.9" fill="#000"/>
<circle cx="456.1" cy="338.9" r="1.9" fill="#000"/>
<circle cx="466.6" cy="338.9" r="1.9" fill="#000"/>
<circle cx="477.1" cy="338.9" r="1.9" fill="#000"/>
<circle cx="487.6" cy="338.9" r="1.9" fill="#000"/>
<polyline points="319.6,338.9 330.1,336.53 340.6,336.53 351.1,337.72 361.6,338.9 372.1,338.9 382.6,338.9 393.1,338.9 403.6,338.9 414.1,338.9 424.6,338.9 435.1,338.9 445.6,338.9 456.1,338.9 466.6,338.9 477.1,338.9 487.6,338.9" fill="none" stroke="#000" stroke-width="1.95" stroke-linejoin="round"/>
<polygon points="319.6,336.62 321.69,338.9 319.6,341.17999999999995 317.51000000000005,338.9" fill="#000"/>
<polygon points="330.1,334.25 332.19,336.53 330.1,338.80999999999995 328.01000000000005,336.53" fill="#000"/>
<polygon points="340.6,334.25 342.69,336.53 340.6,338.80999999999995 338.51000000000005,336.53" fill="#000"/>
<polygon points="351.1,335.44000000000005 353.19,337.72 351.1,340.0 349.01000000000005,337.72" fill="#000"/>
<polygon points="361.6,336.62 363.69,338.9 361.6,341.17999999999995 359.51000000000005,338.9" fill="#000"/>
<polygon points="372.1,336.62 374.19,338.9 372.1,341.17999999999995 370.01000000000005,338.9" fill="#000"/>
<polygon points="382.6,336.62 384.69,338.9 382.6,341.17999999999995 380.51000000000005,338.9" fill="#000"/>
<polygon points="393.1,336.62 395.19,338.9 393.1,341.17999999999995 391.01000000000005,338.9" fill="#000"/>
<polygon points="403.6,336.62 405.69,338.9 403.6,341.17999999999995 401.51000000000005,338.9" fill="#000"/>
<polygon points="414.1,336.62 416.19,338.9 414.1,341.17999999999995 412.01000000000005,338.9" fill="#000"/>
<polygon points="424.6,336.62 426.69,338.9 424.6,341.17999999999995 422.51000000000005,338.9" fill="#000"/>
<polygon points="435.1,336.62 437.19,338.9 435.1,341.17999999999995 433.01000000000005,338.9" fill="#000"/>
<polygon points="445.6,336.62 447.69,338.9 445.6,341.17999999999995 443.51000000000005,338.9" fill="#000"/>
<polygon points="456.1,336.62 458.19,338.9 456.1,341.17999999999995 454.01000000000005,338.9" fill="#000"/>
<polygon points="466.6,336.62 468.69,338.9 466.6,341.17999999999995 464.51000000000005,338.9" fill="#000"/>
<polygon points="477.1,336.62 479.19,338.9 477.1,341.17999999999995 475.01000000000005,338.9" fill="#000"/>
<polygon points="487.6,336.62 489.69,338.9 487.6,341.17999999999995 485.51000000000005,338.9" fill="#000"/>
<polyline points="319.6,338.9 330.1,338.9 340.6,338.9 351.1,338.9 361.6,338.9 372.1,338.9 382.6,338.9 393.1,338.9 403.6,338.9 414.1,338.9 424.6,338.9 435.1,338.9 445.6,338.9 456.1,338.9 466.6,338.9 477.1,338.9 487.6,338.9" fill="none" stroke="#000" stroke-width="1.95" stroke-linejoin="round"/>
<rect x="317.1" y="336.4" width="5.0" height="5.0" fill="#000"/>
<rect x="327.6" y="336.4" width="5.0" height="5.0" fill="#000"/>
<rect x="338.1" y="336.4" width="5.0" height="5.0" fill="#000"/>
<rect x="348.6" y="336.4" width="5.0" height="5.0" fill="#000"/>
<rect x="359.1" y="336.4" width="5.0" height="5.0" fill="#000"/>
<rect x="369.6" y="336.4" width="5.0" height="5.0" fill="#000"/>
<rect x="380.1" y="336.4" width="5.0" height="5.0" fill="#000"/>
<rect x="390.6" y="336.4" width="5.0" height="5.0" fill="#000"/>
<rect x="401.1" y="336.4" width="5.0" height="5.0" fill="#000"/>
<rect x="411.6" y="336.4" width="5.0" height="5.0" fill="#000"/>
<rect x="422.1" y="336.4" width="5.0" height="5.0" fill="#000"/>
<rect x="432.6" y="336.4" width="5.0" height="5.0" fill="#000"/>
<rect x="443.1" y="336.4" width="5.0" height="5.0" fill="#000"/>
<rect x="453.6" y="336.4" width="5.0" height="5.0" fill="#000"/>
<rect x="464.1" y="336.4" width="5.0" height="5.0" fill="#000"/>
<rect x="474.6" y="336.4" width="5.0" height="5.0" fill="#000"/>
<rect x="485.1" y="336.4" width="5.0" height="5.0" fill="#000"/>
<text x="0.4" y="416.9" font-size="14.3" text-anchor="start" font-weight="bold" >C</text>
<text x="60.5" y="414.5" font-size="9.35" text-anchor="start" textLength="106.3" lengthAdjust="spacingAndGlyphs" >Vaccine: H11 Tumor Cells</text>
<text x="60.5" y="426.2" font-size="9.35" text-anchor="start" >Donor: TLR9KO</text>
<line x1="60" y1="429.3" x2="258" y2="429.3" stroke="#2a2a2a" stroke-width="1.15" />
<text x="322.4" y="414.0" font-size="9.35" text-anchor="start" textLength="129" lengthAdjust="spacingAndGlyphs" >Vaccine: CpG/H11 Tumor Cells</text>
<text x="322.4" y="425.7" font-size="9.35" text-anchor="start" >Donor: TLR9KO</text>
<line x1="322" y1="429.3" x2="520" y2="429.3" stroke="#2a2a2a" stroke-width="1.15" />
<path d="M54.7,446.65 H58.7 V564.9 H233.7 V568.9" fill="none" stroke="#000" stroke-width="1.9" stroke-linejoin="miter"/>
<line x1="54.7" y1="564.9" x2="58.7" y2="564.9" stroke="#000" stroke-width="1.7" />
<line x1="54.7" y1="541.25" x2="58.7" y2="541.25" stroke="#000" stroke-width="1.7" />
<line x1="54.7" y1="517.6" x2="58.7" y2="517.6" stroke="#000" stroke-width="1.7" />
<line x1="54.7" y1="493.95" x2="58.7" y2="493.95" stroke="#000" stroke-width="1.7" />
<line x1="54.7" y1="470.29999999999995" x2="58.7" y2="470.29999999999995" stroke="#000" stroke-width="1.7" />
<text x="54.2" y="567.85" font-size="8.4" text-anchor="end" >0</text>
<text x="54.2" y="544.2" font-size="8.4" text-anchor="end" >1</text>
<text x="54.2" y="520.5500000000001" font-size="8.4" text-anchor="end" >2</text>
<text x="54.2" y="496.9" font-size="8.4" text-anchor="end" >3</text>
<text x="54.2" y="473.24999999999994" font-size="8.4" text-anchor="end" >4</text>
<text x="54.2" y="449.59999999999997" font-size="8.4" text-anchor="end" >5</text>
<line x1="58.7" y1="564.9" x2="58.7" y2="568.9" stroke="#000" stroke-width="1.7" />
<text x="58.7" y="578.1" font-size="8.4" text-anchor="middle" >0</text>
<line x1="93.7" y1="564.9" x2="93.7" y2="568.9" stroke="#000" stroke-width="1.7" />
<text x="93.7" y="578.1" font-size="8.4" text-anchor="middle" >10</text>
<line x1="128.7" y1="564.9" x2="128.7" y2="568.9" stroke="#000" stroke-width="1.7" />
<text x="128.7" y="578.1" font-size="8.4" text-anchor="middle" >20</text>
<line x1="163.7" y1="564.9" x2="163.7" y2="568.9" stroke="#000" stroke-width="1.7" />
<text x="163.7" y="578.1" font-size="8.4" text-anchor="middle" >30</text>
<line x1="198.7" y1="564.9" x2="198.7" y2="568.9" stroke="#000" stroke-width="1.7" />
<text x="198.7" y="578.1" font-size="8.4" text-anchor="middle" >40</text>
<text x="233.7" y="578.1" font-size="8.4" text-anchor="middle" >50</text>
<text x="61.800000000000004" y="454.95" font-size="9.2" text-anchor="start" >(1/10)</text>
<text transform="translate(40.0,508.6) rotate(-90)" font-size="10.2" text-anchor="middle">Tumor Size (cm<tspan font-size="6.3" dy="-3.3">2</tspan><tspan dy="3.3">)</tspan></text>
<text x="149.5" y="594.2" font-size="9.6" text-anchor="middle" textLength="50" lengthAdjust="spacingAndGlyphs" >Time (Days)</text>
<polyline points="58.7,564.9 69.2,564.9 79.7,564.9 90.2,563.72 100.7,557.8 111.2,551.66 121.7,546.22 132.2,534.15 142.7,492.53 153.2,465.1" fill="none" stroke="#000" stroke-width="1.95" stroke-linejoin="round"/>
<circle cx="58.7" cy="564.9" r="2" fill="#000"/>
<circle cx="69.2" cy="564.9" r="2" fill="#000"/>
<circle cx="79.7" cy="564.9" r="2" fill="#000"/>
<circle cx="90.2" cy="563.72" r="2" fill="#000"/>
<circle cx="100.7" cy="557.8" r="2" fill="#000"/>
<circle cx="111.2" cy="551.66" r="2" fill="#000"/>
<circle cx="121.7" cy="546.22" r="2" fill="#000"/>
<circle cx="132.2" cy="534.15" r="2" fill="#000"/>
<circle cx="142.7" cy="492.53" r="2" fill="#000"/>
<circle cx="153.2" cy="465.1" r="2" fill="#000"/>
<polyline points="58.7,564.9 69.2,564.9 79.7,562.53 90.2,555.44 100.7,535.34 111.2,508.14 121.7,469.59" fill="none" stroke="#000" stroke-width="1.95" stroke-linejoin="round"/>
<polygon points="58.7,562.6999999999999 56.5,566.6999999999999 60.900000000000006,566.6999999999999" fill="#000"/>
<polygon points="69.2,562.6999999999999 67.0,566.6999999999999 71.4,566.6999999999999" fill="#000"/>
<polygon points="79.7,560.3299999999999 77.5,564.3299999999999 81.9,564.3299999999999" fill="#000"/>
<polygon points="90.2,553.24 88.0,557.24 92.4,557.24" fill="#000"/>
<polygon points="100.7,533.14 98.5,537.14 102.9,537.14" fill="#000"/>
<polygon points="111.2,505.94 109.0,509.94 113.4,509.94" fill="#000"/>
<polygon points="121.7,467.39 119.5,471.39 123.9,471.39" fill="#000"/>
<polyline points="58.7,564.9 69.2,564.9 79.7,563.01 90.2,556.62 100.7,537.7 111.2,510.5 121.7,472.66" fill="none" stroke="#000" stroke-width="1.95" stroke-linejoin="round"/>
<polygon points="58.7,562.6999999999999 56.5,566.6999999999999 60.900000000000006,566.6999999999999" fill="#000"/>
<polygon points="69.2,562.6999999999999 67.0,566.6999999999999 71.4,566.6999999999999" fill="#000"/>
<polygon points="79.7,560.81 77.5,564.81 81.9,564.81" fill="#000"/>
<polygon points="90.2,554.42 88.0,558.42 92.4,558.42" fill="#000"/>
<polygon points="100.7,535.5 98.5,539.5 102.9,539.5" fill="#000"/>
<polygon points="111.2,508.3 109.0,512.3 113.4,512.3" fill="#000"/>
<polygon points="121.7,470.46000000000004 119.5,474.46000000000004 123.9,474.46000000000004" fill="#000"/>
<polyline points="58.7,564.9 69.2,564.9 79.7,563.72 90.2,557.8 100.7,541.25 111.2,515.24 121.7,480.94 132.2,457.53" fill="none" stroke="#000" stroke-width="1.95" stroke-linejoin="round"/>
<polygon points="58.7,567.1 56.5,563.1 60.900000000000006,563.1" fill="#000"/>
<polygon points="69.2,567.1 67.0,563.1 71.4,563.1" fill="#000"/>
<polygon points="79.7,565.9200000000001 77.5,561.9200000000001 81.9,561.9200000000001" fill="#000"/>
<polygon points="90.2,560.0 88.0,556.0 92.4,556.0" fill="#000"/>
<polygon points="100.7,543.45 98.5,539.45 102.9,539.45" fill="#000"/>
<polygon points="111.2,517.44 109.0,513.44 113.4,513.44" fill="#000"/>
<polygon points="121.7,483.14 119.5,479.14 123.9,479.14" fill="#000"/>
<polygon points="132.2,459.72999999999996 130.0,455.72999999999996 134.39999999999998,455.72999999999996" fill="#000"/>
<polyline points="58.7,564.9 69.2,564.9 79.7,563.72 90.2,557.8 100.7,543.62 111.2,522.33 121.7,486.86 132.2,462.26" fill="none" stroke="#000" stroke-width="1.95" stroke-linejoin="round"/>
<rect x="56.7" y="562.9" width="4" height="4" fill="none" stroke="#000" stroke-width="1.0"/>
<rect x="67.2" y="562.9" width="4" height="4" fill="none" stroke="#000" stroke-width="1.0"/>
<rect x="77.7" y="561.72" width="4" height="4" fill="none" stroke="#000" stroke-width="1.0"/>
<rect x="88.2" y="555.8" width="4" height="4" fill="none" stroke="#000" stroke-width="1.0"/>
<rect x="98.7" y="541.62" width="4" height="4" fill="none" stroke="#000" stroke-width="1.0"/>
<rect x="109.2" y="520.33" width="4" height="4" fill="none" stroke="#000" stroke-width="1.0"/>
<rect x="119.7" y="484.86" width="4" height="4" fill="none" stroke="#000" stroke-width="1.0"/>
<rect x="130.2" y="460.26" width="4" height="4" fill="none" stroke="#000" stroke-width="1.0"/>
<polyline points="58.7,564.9 69.2,564.9 79.7,564.19 90.2,560.17 100.7,547.16 111.2,527.06 121.7,492.53 132.2,465.57" fill="none" stroke="#000" stroke-width="1.95" stroke-linejoin="round"/>
<circle cx="58.7" cy="564.9" r="1.9" fill="none" stroke="#000" stroke-width="1.0"/>
<circle cx="69.2" cy="564.9" r="1.9" fill="none" stroke="#000" stroke-width="1.0"/>
<circle cx="79.7" cy="564.19" r="1.9" fill="none" stroke="#000" stroke-width="1.0"/>
<circle cx="90.2" cy="560.17" r="1.9" fill="none" stroke="#000" stroke-width="1.0"/>
<circle cx="100.7" cy="547.16" r="1.9" fill="none" stroke="#000" stroke-width="1.0"/>
<circle cx="111.2" cy="527.06" r="1.9" fill="none" stroke="#000" stroke-width="1.0"/>
<circle cx="121.7" cy="492.53" r="1.9" fill="none" stroke="#000" stroke-width="1.0"/>
<circle cx="132.2" cy="465.57" r="1.9" fill="none" stroke="#000" stroke-width="1.0"/>
<polyline points="58.7,564.9 69.2,564.9 79.7,564.43 90.2,561.35 100.7,550.71 111.2,531.79 121.7,496.31 132.2,467.94" fill="none" stroke="#000" stroke-width="1.95" stroke-linejoin="round"/>
<polygon points="58.7,562.62 60.790000000000006,564.9 58.7,567.18 56.61,564.9" fill="#000"/>
<polygon points="69.2,562.62 71.29,564.9 69.2,567.18 67.11,564.9" fill="#000"/>
<polygon points="79.7,562.15 81.79,564.43 79.7,566.7099999999999 77.61,564.43" fill="#000"/>
<polygon points="90.2,559.07 92.29,561.35 90.2,563.63 88.11,561.35" fill="#000"/>
<polygon points="100.7,548.4300000000001 102.79,550.71 100.7,552.99 98.61,550.71" fill="#000"/>
<polygon points="111.2,529.51 113.29,531.79 111.2,534.0699999999999 109.11,531.79" fill="#000"/>
<polygon points="121.7,494.03000000000003 123.79,496.31 121.7,498.59 119.61,496.31" fill="#000"/>
<polygon points="132.2,465.66 134.29,467.94 132.2,470.21999999999997 130.10999999999999,467.94" fill="#000"/>
<polyline points="58.7,564.9 69.2,564.9 79.7,564.9 90.2,562.06 100.7,553.07 111.2,538.88 121.7,501.04 132.2,470.3" fill="none" stroke="#000" stroke-width="1.95" stroke-linejoin="round"/>
<rect x="56.900000000000006" y="563.1" width="3.6" height="3.6" fill="#000"/>
<rect x="67.4" y="563.1" width="3.6" height="3.6" fill="#000"/>
<rect x="77.9" y="563.1" width="3.6" height="3.6" fill="#000"/>
<rect x="88.4" y="560.26" width="3.6" height="3.6" fill="#000"/>
<rect x="98.9" y="551.2700000000001" width="3.6" height="3.6" fill="#000"/>
<rect x="109.4" y="537.08" width="3.6" height="3.6" fill="#000"/>
<rect x="119.9" y="499.24" width="3.6" height="3.6" fill="#000"/>
<rect x="130.39999999999998" y="468.5" width="3.6" height="3.6" fill="#000"/>
<polyline points="58.7,564.9 69.2,564.9 79.7,564.9 90.2,562.53 100.7,555.44 111.2,541.25 121.7,504.12 132.2,471.48" fill="none" stroke="#000" stroke-width="1.95" stroke-linejoin="round"/>
<polygon points="58.7,562.6999999999999 56.5,566.6999999999999 60.900000000000006,566.6999999999999" fill="#000"/>
<polygon points="69.2,562.6999999999999 67.0,566.6999999999999 71.4,566.6999999999999" fill="#000"/>
<polygon points="79.7,562.6999999999999 77.5,566.6999999999999 81.9,566.6999999999999" fill="#000"/>
<polygon points="90.2,560.3299999999999 88.0,564.3299999999999 92.4,564.3299999999999" fill="#000"/>
<polygon points="100.7,553.24 98.5,557.24 102.9,557.24" fill="#000"/>
<polygon points="111.2,539.05 109.0,543.05 113.4,543.05" fill="#000"/>
<polygon points="121.7,501.92 119.5,505.92 123.9,505.92" fill="#000"/>
<polygon points="132.2,469.28000000000003 130.0,473.28000000000003 134.39999999999998,473.28000000000003" fill="#000"/>
<polyline points="58.7,564.9 69.2,564.9 79.7,564.9 90.2,564.9 100.7,564.9 111.2,564.9 121.7,564.9 132.2,564.9 142.7,564.9 153.2,564.9 163.7,564.9 174.2,564.9 184.7,564.9 195.2,564.9 205.7,564.9 216.2,564.9 226.7,564.9" fill="none" stroke="#000" stroke-width="1.95" stroke-linejoin="round"/>
<polygon points="58.7,562.14 61.230000000000004,564.9 58.7,567.66 56.17,564.9" fill="#000"/>
<polygon points="69.2,562.14 71.73,564.9 69.2,567.66 66.67,564.9" fill="#000"/>
<polygon points="79.7,562.14 82.23,564.9 79.7,567.66 77.17,564.9" fill="#000"/>
<polygon points="90.2,562.14 92.73,564.9 90.2,567.66 87.67,564.9" fill="#000"/>
<polygon points="100.7,562.14 103.23,564.9 100.7,567.66 98.17,564.9" fill="#000"/>
<polygon points="111.2,562.14 113.73,564.9 111.2,567.66 108.67,564.9" fill="#000"/>
<polygon points="121.7,562.14 124.23,564.9 121.7,567.66 119.17,564.9" fill="#000"/>
<polygon points="132.2,562.14 134.73,564.9 132.2,567.66 129.67,564.9" fill="#000"/>
<polygon points="142.7,562.14 145.23,564.9 142.7,567.66 140.17,564.9" fill="#000"/>
<polygon points="153.2,562.14 155.73,564.9 153.2,567.66 150.67,564.9" fill="#000"/>
<polygon points="163.7,562.14 166.23,564.9 163.7,567.66 161.17,564.9" fill="#000"/>
<polygon points="174.2,562.14 176.73,564.9 174.2,567.66 171.67,564.9" fill="#000"/>
<polygon points="184.7,562.14 187.23,564.9 184.7,567.66 182.17,564.9" fill="#000"/>
<polygon points="195.2,562.14 197.73,564.9 195.2,567.66 192.67,564.9" fill="#000"/>
<polygon points="205.7,562.14 208.23,564.9 205.7,567.66 203.17,564.9" fill="#000"/>
<polygon points="216.2,562.14 218.73,564.9 216.2,567.66 213.67,564.9" fill="#000"/>
<polygon points="226.7,562.14 229.23,564.9 226.7,567.66 224.17,564.9" fill="#000"/>
<path d="M316.5,446.04999999999995 H320.5 V564.3 H495.5 V568.3" fill="none" stroke="#000" stroke-width="1.9" stroke-linejoin="miter"/>
<line x1="316.5" y1="564.3" x2="320.5" y2="564.3" stroke="#000" stroke-width="1.7" />
<line x1="316.5" y1="540.65" x2="320.5" y2="540.65" stroke="#000" stroke-width="1.7" />
<line x1="316.5" y1="517.0" x2="320.5" y2="517.0" stroke="#000" stroke-width="1.7" />
<line x1="316.5" y1="493.34999999999997" x2="320.5" y2="493.34999999999997" stroke="#000" stroke-width="1.7" />
<line x1="316.5" y1="469.69999999999993" x2="320.5" y2="469.69999999999993" stroke="#000" stroke-width="1.7" />
<text x="316.0" y="567.25" font-size="8.4" text-anchor="end" >0</text>
<text x="316.0" y="543.6" font-size="8.4" text-anchor="end" >1</text>
<text x="316.0" y="519.95" font-size="8.4" text-anchor="end" >2</text>
<text x="316.0" y="496.29999999999995" font-size="8.4" text-anchor="end" >3</text>
<text x="316.0" y="472.6499999999999" font-size="8.4" text-anchor="end" >4</text>
<text x="316.0" y="448.99999999999994" font-size="8.4" text-anchor="end" >5</text>
<line x1="320.5" y1="564.3" x2="320.5" y2="568.3" stroke="#000" stroke-width="1.7" />
<text x="320.5" y="577.0999999999999" font-size="8.4" text-anchor="middle" >0</text>
<line x1="355.5" y1="564.3" x2="355.5" y2="568.3" stroke="#000" stroke-width="1.7" />
<text x="355.5" y="577.0999999999999" font-size="8.4" text-anchor="middle" >10</text>
<line x1="390.5" y1="564.3" x2="390.5" y2="568.3" stroke="#000" stroke-width="1.7" />
<text x="390.5" y="577.0999999999999" font-size="8.4" text-anchor="middle" >20</text>
<line x1="425.5" y1="564.3" x2="425.5" y2="568.3" stroke="#000" stroke-width="1.7" />
<text x="425.5" y="577.0999999999999" font-size="8.4" text-anchor="middle" >30</text>
<line x1="460.5" y1="564.3" x2="460.5" y2="568.3" stroke="#000" stroke-width="1.7" />
<text x="460.5" y="577.0999999999999" font-size="8.4" text-anchor="middle" >40</text>
<text x="495.5" y="577.0999999999999" font-size="8.4" text-anchor="middle" >50</text>
<text x="323.6" y="453.84999999999997" font-size="9.2" text-anchor="start" >(2/10)</text>
<polyline points="320.5,564.3 331.0,564.3 341.5,563.12 352.0,560.75 362.5,557.2 373.0,552.47 383.5,548.45 394.0,548.22 404.5,548.69 415.0,550.58 425.5,552.95 436.0,554.37 446.5,555.31 457.0,559.57 467.5,564.3 478.0,564.3 488.5,564.3" fill="none" stroke="#000" stroke-width="1.95" stroke-linejoin="round"/>
<circle cx="320.5" cy="564.3" r="1.3" fill="#000"/>
<circle cx="331.0" cy="564.3" r="1.3" fill="#000"/>
<circle cx="341.5" cy="563.12" r="1.3" fill="#000"/>
<circle cx="352.0" cy="560.75" r="1.3" fill="#000"/>
<circle cx="362.5" cy="557.2" r="1.3" fill="#000"/>
<circle cx="373.0" cy="552.47" r="1.3" fill="#000"/>
<circle cx="383.5" cy="548.45" r="1.3" fill="#000"/>
<circle cx="394.0" cy="548.22" r="1.3" fill="#000"/>
<circle cx="404.5" cy="548.69" r="1.3" fill="#000"/>
<circle cx="415.0" cy="550.58" r="1.3" fill="#000"/>
<circle cx="425.5" cy="552.95" r="1.3" fill="#000"/>
<circle cx="436.0" cy="554.37" r="1.3" fill="#000"/>
<circle cx="446.5" cy="555.31" r="1.3" fill="#000"/>
<circle cx="457.0" cy="559.57" r="1.3" fill="#000"/>
<circle cx="467.5" cy="564.3" r="1.3" fill="#000"/>
<circle cx="478.0" cy="564.3" r="1.3" fill="#000"/>
<circle cx="488.5" cy="564.3" r="1.3" fill="#000"/>
<polyline points="320.5,564.3 331.0,564.3 341.5,559.57 352.0,558.39 362.5,559.57 373.0,557.2 383.5,553.66 394.0,550.11 404.5,548.69 415.0,564.3 425.5,564.3 436.0,564.3 446.5,564.3 457.0,564.3 467.5,564.3 478.0,564.3 488.5,564.3" fill="none" stroke="#000" stroke-width="1.95" stroke-linejoin="round"/>
<polygon points="320.5,562.3199999999999 318.52,565.92 322.48,565.92" fill="#000"/>
<polygon points="331.0,562.3199999999999 329.02,565.92 332.98,565.92" fill="#000"/>
<polygon points="341.5,557.59 339.52,561.19 343.48,561.19" fill="#000"/>
<polygon points="352.0,556.41 350.02,560.01 353.98,560.01" fill="#000"/>
<polygon points="362.5,557.59 360.52,561.19 364.48,561.19" fill="#000"/>
<polygon points="373.0,555.22 371.02,558.82 374.98,558.82" fill="#000"/>
<polygon points="383.5,551.68 381.52,555.28 385.48,555.28" fill="#000"/>
<polygon points="394.0,548.13 392.02,551.73 395.98,551.73" fill="#000"/>
<polygon points="404.5,546.71 402.52,550.3100000000001 406.48,550.3100000000001" fill="#000"/>
<polygon points="415.0,562.3199999999999 413.02,565.92 416.98,565.92" fill="#000"/>
<polygon points="425.5,562.3199999999999 423.52,565.92 427.48,565.92" fill="#000"/>
<polygon points="436.0,562.3199999999999 434.02,565.92 437.98,565.92" fill="#000"/>
<polygon points="446.5,562.3199999999999 444.52,565.92 448.48,565.92" fill="#000"/>
<polygon points="457.0,562.3199999999999 455.02,565.92 458.98,565.92" fill="#000"/>
<polygon points="467.5,562.3199999999999 465.52,565.92 469.48,565.92" fill="#000"/>
<polygon points="478.0,562.3199999999999 476.02,565.92 479.98,565.92" fill="#000"/>
<polygon points="488.5,562.3199999999999 486.52,565.92 490.48,565.92" fill="#000"/>
<polyline points="320.5,564.3 331.0,564.3 341.5,559.57 352.0,559.57 362.5,561.93 373.0,564.3 383.5,564.3 394.0,564.3 404.5,564.3 415.0,564.3 425.5,564.3 436.0,564.3 446.5,564.3 457.0,564.3 467.5,564.3 478.0,564.3 488.5,564.3" fill="none" stroke="#000" stroke-width="1.95" stroke-linejoin="round"/>
<rect x="318.4" y="562.1999999999999" width="4.2" height="4.2" fill="#000"/>
<rect x="328.9" y="562.1999999999999" width="4.2" height="4.2" fill="#000"/>
<rect x="339.4" y="557.47" width="4.2" height="4.2" fill="#000"/>
<rect x="349.9" y="557.47" width="4.2" height="4.2" fill="#000"/>
<rect x="360.4" y="559.8299999999999" width="4.2" height="4.2" fill="#000"/>
<rect x="370.9" y="562.1999999999999" width="4.2" height="4.2" fill="#000"/>
<rect x="381.4" y="562.1999999999999" width="4.2" height="4.2" fill="#000"/>
<rect x="391.9" y="562.1999999999999" width="4.2" height="4.2" fill="#000"/>
<rect x="402.4" y="562.1999999999999" width="4.2" height="4.2" fill="#000"/>
<rect x="412.9" y="562.1999999999999" width="4.2" height="4.2" fill="#000"/>
<rect x="423.4" y="562.1999999999999" width="4.2" height="4.2" fill="#000"/>
<rect x="433.9" y="562.1999999999999" width="4.2" height="4.2" fill="#000"/>
<rect x="444.4" y="562.1999999999999" width="4.2" height="4.2" fill="#000"/>
<rect x="454.9" y="562.1999999999999" width="4.2" height="4.2" fill="#000"/>
<rect x="465.4" y="562.1999999999999" width="4.2" height="4.2" fill="#000"/>
<rect x="475.9" y="562.1999999999999" width="4.2" height="4.2" fill="#000"/>
<rect x="486.4" y="562.1999999999999" width="4.2" height="4.2" fill="#000"/>
<polyline points="320.5,564.3 331.0,564.3 341.5,564.3 352.0,564.3 362.5,564.3 373.0,564.3 383.5,564.3 394.0,563.12 404.5,556.73 415.0,540.89 425.5,524.33 436.0,508.01 446.5,479.4" fill="none" stroke="#000" stroke-width="1.95" stroke-linejoin="round"/>
<rect x="318.1" y="561.9" width="4.8" height="4.8" fill="none" stroke="#000" stroke-width="1.0"/>
<rect x="328.6" y="561.9" width="4.8" height="4.8" fill="none" stroke="#000" stroke-width="1.0"/>
<rect x="339.1" y="561.9" width="4.8" height="4.8" fill="none" stroke="#000" stroke-width="1.0"/>
<rect x="349.6" y="561.9" width="4.8" height="4.8" fill="none" stroke="#000" stroke-width="1.0"/>
<rect x="360.1" y="561.9" width="4.8" height="4.8" fill="none" stroke="#000" stroke-width="1.0"/>
<rect x="370.6" y="561.9" width="4.8" height="4.8" fill="none" stroke="#000" stroke-width="1.0"/>
<rect x="381.1" y="561.9" width="4.8" height="4.8" fill="none" stroke="#000" stroke-width="1.0"/>
<rect x="391.6" y="560.72" width="4.8" height="4.8" fill="none" stroke="#000" stroke-width="1.0"/>
<rect x="402.1" y="554.33" width="4.8" height="4.8" fill="none" stroke="#000" stroke-width="1.0"/>
<rect x="412.6" y="538.49" width="4.8" height="4.8" fill="none" stroke="#000" stroke-width="1.0"/>
<rect x="423.1" y="521.9300000000001" width="4.8" height="4.8" fill="none" stroke="#000" stroke-width="1.0"/>
<rect x="433.6" y="505.61" width="4.8" height="4.8" fill="none" stroke="#000" stroke-width="1.0"/>
<rect x="444.1" y="477.0" width="4.8" height="4.8" fill="none" stroke="#000" stroke-width="1.0"/>
<polyline points="320.5,564.3 331.0,564.3 341.5,564.3 352.0,564.3 362.5,564.3 373.0,564.3 383.5,564.3 394.0,561.93 404.5,548.93 415.0,527.41 425.5,508.01 436.0,487.91 446.5,460.48" fill="none" stroke="#000" stroke-width="1.95" stroke-linejoin="round"/>
<circle cx="320.5" cy="564.3" r="2.5" fill="none" stroke="#000" stroke-width="1.0"/>
<circle cx="331.0" cy="564.3" r="2.5" fill="none" stroke="#000" stroke-width="1.0"/>
<circle cx="341.5" cy="564.3" r="2.5" fill="none" stroke="#000" stroke-width="1.0"/>
<circle cx="352.0" cy="564.3" r="2.5" fill="none" stroke="#000" stroke-width="1.0"/>
<circle cx="362.5" cy="564.3" r="2.5" fill="none" stroke="#000" stroke-width="1.0"/>
<circle cx="373.0" cy="564.3" r="2.5" fill="none" stroke="#000" stroke-width="1.0"/>
<circle cx="383.5" cy="564.3" r="2.5" fill="none" stroke="#000" stroke-width="1.0"/>
<circle cx="394.0" cy="561.93" r="2.5" fill="none" stroke="#000" stroke-width="1.0"/>
<circle cx="404.5" cy="548.93" r="2.5" fill="none" stroke="#000" stroke-width="1.0"/>
<circle cx="415.0" cy="527.41" r="2.5" fill="none" stroke="#000" stroke-width="1.0"/>
<circle cx="425.5" cy="508.01" r="2.5" fill="none" stroke="#000" stroke-width="1.0"/>
<circle cx="436.0" cy="487.91" r="2.5" fill="none" stroke="#000" stroke-width="1.0"/>
<circle cx="446.5" cy="460.48" r="2.5" fill="none" stroke="#000" stroke-width="1.0"/>
<polyline points="320.5,564.3 331.0,564.3 341.5,561.93 352.0,559.57 362.5,557.2 373.0,551.06 383.5,548.45 394.0,539.94 404.5,529.77 415.0,511.8 425.5,491.69 436.0,455.98" fill="none" stroke="#000" stroke-width="1.95" stroke-linejoin="round"/>
<rect x="318.2" y="562.0" width="4.6" height="4.6" fill="#000"/>
<rect x="328.7" y="562.0" width="4.6" height="4.6" fill="#000"/>
<rect x="339.2" y="559.63" width="4.6" height="4.6" fill="#000"/>
<rect x="349.7" y="557.2700000000001" width="4.6" height="4.6" fill="#000"/>
<rect x="360.2" y="554.9000000000001" width="4.6" height="4.6" fill="#000"/>
<rect x="370.7" y="548.76" width="4.6" height="4.6" fill="#000"/>
<rect x="381.2" y="546.1500000000001" width="4.6" height="4.6" fill="#000"/>
<rect x="391.7" y="537.6400000000001" width="4.6" height="4.6" fill="#000"/>
<rect x="402.2" y="527.47" width="4.6" height="4.6" fill="#000"/>
<rect x="412.7" y="509.5" width="4.6" height="4.6" fill="#000"/>
<rect x="423.2" y="489.39" width="4.6" height="4.6" fill="#000"/>
<rect x="433.7" y="453.68" width="4.6" height="4.6" fill="#000"/>
<polyline points="320.5,564.3 331.0,564.3 341.5,564.3 352.0,564.3 362.5,561.93 373.0,557.2 383.5,550.11 394.0,543.01 404.5,522.91 415.0,498.79 425.5,478.21 436.0,447.23" fill="none" stroke="#000" stroke-width="1.95" stroke-linejoin="round"/>
<polygon points="320.5,566.8299999999999 317.97,562.2299999999999 323.03,562.2299999999999" fill="none" stroke="#000" stroke-width="1.0"/>
<polygon points="331.0,566.8299999999999 328.47,562.2299999999999 333.53,562.2299999999999" fill="none" stroke="#000" stroke-width="1.0"/>
<polygon points="341.5,566.8299999999999 338.97,562.2299999999999 344.03,562.2299999999999" fill="none" stroke="#000" stroke-width="1.0"/>
<polygon points="352.0,566.8299999999999 349.47,562.2299999999999 354.53,562.2299999999999" fill="none" stroke="#000" stroke-width="1.0"/>
<polygon points="362.5,564.4599999999999 359.97,559.8599999999999 365.03,559.8599999999999" fill="none" stroke="#000" stroke-width="1.0"/>
<polygon points="373.0,559.73 370.47,555.13 375.53,555.13" fill="none" stroke="#000" stroke-width="1.0"/>
<polygon points="383.5,552.64 380.97,548.04 386.03,548.04" fill="none" stroke="#000" stroke-width="1.0"/>
<polygon points="394.0,545.54 391.47,540.9399999999999 396.53,540.9399999999999" fill="none" stroke="#000" stroke-width="1.0"/>
<polygon points="404.5,525.4399999999999 401.97,520.8399999999999 407.03,520.8399999999999" fill="none" stroke="#000" stroke-width="1.0"/>
<polygon points="415.0,501.32 412.47,496.72 417.53,496.72" fill="none" stroke="#000" stroke-width="1.0"/>
<polygon points="425.5,480.73999999999995 422.97,476.14 428.03,476.14" fill="none" stroke="#000" stroke-width="1.0"/>
<polygon points="436.0,449.76 433.47,445.16 438.53,445.16" fill="none" stroke="#000" stroke-width="1.0"/>
<polyline points="320.5,564.3 331.0,564.3 341.5,564.3 352.0,561.93 362.5,557.2 373.0,551.29 383.5,542.54 394.0,529.3 404.5,517.0 415.0,487.2 425.5,468.99 436.0,445.58" fill="none" stroke="#000" stroke-width="1.95" stroke-linejoin="round"/>
<polygon points="320.5,566.06 318.74,562.8599999999999 322.26,562.8599999999999" fill="#000"/>
<polygon points="331.0,566.06 329.24,562.8599999999999 332.76,562.8599999999999" fill="#000"/>
<polygon points="341.5,566.06 339.74,562.8599999999999 343.26,562.8599999999999" fill="#000"/>
<polygon points="352.0,563.6899999999999 350.24,560.4899999999999 353.76,560.4899999999999" fill="#000"/>
<polygon points="362.5,558.96 360.74,555.76 364.26,555.76" fill="#000"/>
<polygon points="373.0,553.05 371.24,549.8499999999999 374.76,549.8499999999999" fill="#000"/>
<polygon points="383.5,544.3 381.74,541.0999999999999 385.26,541.0999999999999" fill="#000"/>
<polygon points="394.0,531.06 392.24,527.8599999999999 395.76,527.8599999999999" fill="#000"/>
<polygon points="404.5,518.76 402.74,515.56 406.26,515.56" fill="#000"/>
<polygon points="415.0,488.96 413.24,485.76 416.76,485.76" fill="#000"/>
<polygon points="425.5,470.75 423.74,467.55 427.26,467.55" fill="#000"/>
<polygon points="436.0,447.34 434.24,444.14 437.76,444.14" fill="#000"/>
<polyline points="320.5,564.3 331.0,564.3 341.5,564.3 352.0,563.12 362.5,559.57 373.0,554.37 383.5,543.01 394.0,519.13 404.5,486.49" fill="none" stroke="#000" stroke-width="1.95" stroke-linejoin="round"/>
<polygon points="320.5,561.99 318.19,566.1899999999999 322.81,566.1899999999999" fill="none" stroke="#000" stroke-width="1.0"/>
<polygon points="331.0,561.99 328.69,566.1899999999999 333.31,566.1899999999999" fill="none" stroke="#000" stroke-width="1.0"/>
<polygon points="341.5,561.99 339.19,566.1899999999999 343.81,566.1899999999999" fill="none" stroke="#000" stroke-width="1.0"/>
<polygon points="352.0,560.8100000000001 349.69,565.01 354.31,565.01" fill="none" stroke="#000" stroke-width="1.0"/>
<polygon points="362.5,557.2600000000001 360.19,561.46 364.81,561.46" fill="none" stroke="#000" stroke-width="1.0"/>
<polygon points="373.0,552.0600000000001 370.69,556.26 375.31,556.26" fill="none" stroke="#000" stroke-width="1.0"/>
<polygon points="383.5,540.7 381.19,544.9 385.81,544.9" fill="none" stroke="#000" stroke-width="1.0"/>
<polygon points="394.0,516.82 391.69,521.02 396.31,521.02" fill="none" stroke="#000" stroke-width="1.0"/>
<polygon points="404.5,484.18 402.19,488.38 406.81,488.38" fill="none" stroke="#000" stroke-width="1.0"/>
<polyline points="320.5,564.3 331.0,564.3 341.5,563.12 352.0,560.75 362.5,552.71 373.0,538.28 383.5,530.01 394.0,510.85 404.5,484.36" fill="none" stroke="#000" stroke-width="1.95" stroke-linejoin="round"/>
<polygon points="320.5,561.9 322.7,564.3 320.5,566.6999999999999 318.3,564.3" fill="#000"/>
<polygon points="331.0,561.9 333.2,564.3 331.0,566.6999999999999 328.8,564.3" fill="#000"/>
<polygon points="341.5,560.72 343.7,563.12 341.5,565.52 339.3,563.12" fill="#000"/>
<polygon points="352.0,558.35 354.2,560.75 352.0,563.15 349.8,560.75" fill="#000"/>
<polygon points="362.5,550.3100000000001 364.7,552.71 362.5,555.11 360.3,552.71" fill="#000"/>
<polygon points="373.0,535.88 375.2,538.28 373.0,540.68 370.8,538.28" fill="#000"/>
<polygon points="383.5,527.61 385.7,530.01 383.5,532.41 381.3,530.01" fill="#000"/>
<polygon points="394.0,508.45000000000005 396.2,510.85 394.0,513.25 391.8,510.85" fill="#000"/>
<polygon points="404.5,481.96000000000004 406.7,484.36 404.5,486.76 402.3,484.36" fill="#000"/>
<polygon points="436.0,448.18 432.92,442.58000000000004 439.08,442.58000000000004" fill="#000"/>
</svg></body></html>
